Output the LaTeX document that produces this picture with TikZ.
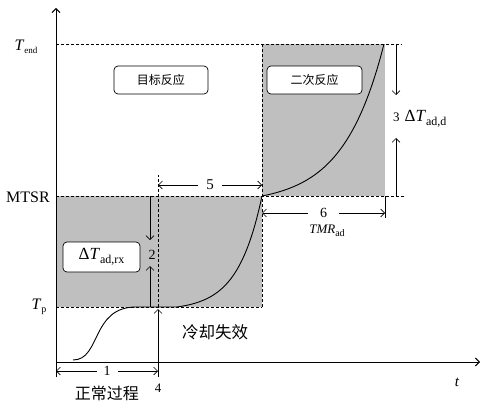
\documentclass[tikz,border=0pt]{standalone}
\usepackage{fontspec}
\setmainfont{Liberation Serif}
\newfontfamily\cjk{Noto Sans CJK SC}
\usetikzlibrary{arrows.meta,calc}
\newcommand\fs[1]{\fontsize{#1}{#1}\selectfont}
\newcommand\lowsub[2]{\raisebox{-0.45ex}{\fs{#1}#2}}

\begin{document}
\begin{tikzpicture}[x=1pt,y=1pt]
	\tikzset{>={Straight Barb[length=4pt,width=8pt]}}
	\tikzset{guide/.style={densely dashed,line width=0.6pt},
		curve/.style={line width=0.9pt},
		dim/.style={line width=0.7pt},
		tagbox/.style={draw,fill=white,rounded corners=4pt,line width=0.7pt,inner sep=0pt},
		gaplabel/.style={fill=white,inner sep=0pt,font=\fs{14}}}
	\useasboundingbox (-56,-46) rectangle (432,362);
	% levels and corners
	\coordinate (O) at (0,0);
	\coordinate (Tp) at (0,55);
	\coordinate (Ms) at (0,166);
	\coordinate (Te) at (0,318);
	\coordinate (F) at (102,55);
	\coordinate (R) at (206,166);
	% shaded regions
	\fill[gray!50] (Tp) rectangle (R);
	\fill[gray!50] (R) rectangle (329,318);
	% guide lines
	\draw[guide] (Te) -- (346,318);
	\draw[guide] (Ms) -- (349,166);
	\draw[guide] (Tp) -- (206,55);
	\draw[guide] (206,55) -- (206,318);
	\draw[guide] (F) -- (102,187);
	% temperature course
	\draw[curve] (17,2) .. controls (45,2) and (35,55) .. (80,55) -- (121,55);
	\draw[curve,domain=0:1,samples=50,variable=\s]
		plot ({121+85*\s},{55+111*(exp(3.5*\s)-1)/(exp(3.5)-1)});
	\draw[curve,domain=0:1,samples=50,variable=\s]
		plot ({206+122*\s},{166+152*(exp(3*\s)-1)/(exp(3)-1)});
	% axes
	\draw[->,line width=0.9pt] (0,-15) -- (0,354);
	\draw[->,line width=0.9pt] (O) -- (424,0) coordinate (X);
	\node[font=\fs{15}\itshape] (tlab) at (401,-20) {t};
	% axis labels
	\node (lTe) at (-30,315) {\fs{16}\textit{T}\lowsub{9}{end}};
	\node[font=\fs{16}] (lMs) at (-28,165) {MTSR};
	\node (lTp) at (-17,55) {\fs{16}\textit{T}\lowsub{10}{p}};
	% 1: normal process
	\coordinate (a1) at (0,-9);
	\coordinate (b1) at (102,-9);
	\draw[<->,dim] (a1) -- node[gaplabel,inner xsep=7pt] {1} (b1);
	% 4: cooling failure
	\coordinate (f0) at (102,-15);
	\draw[->,dim] (f0) -- (102,53);
	\node[font=\fs{13}] (n4) at (102,-26) {4};
	% 2: adiabatic rise of the target reaction
	\coordinate (t2) at (94,166);
	\coordinate (u2) at (94,122);
	\coordinate (b2) at (94,55);
	\coordinate (v2) at (94,96);
	\draw[->,dim] (t2) -- (u2);
	\draw[->,dim] (b2) -- (v2);
	\node[font=\fs{14}] (n2) at (96,107) {2};
	% 5
	\coordinate (a5) at (102,177);
	\coordinate (b5) at (206,177);
	\draw[<->,dim] (a5) -- node[gaplabel,inner xsep=8pt,font=\fs{15}] {5} (b5);
	% 6: TMRad
	\coordinate (a6) at (206,149);
	\coordinate (b6) at (329,149);
	\draw[dim] (329,166) -- (329,144);
	\draw[<->,dim] (a6) -- node[gaplabel,inner xsep=12pt] (n6) {6} (b6);
	\node (tmr) at (271,131) {\fs{13}\textit{TMR}\lowsub{10}{ad}};
	% 3: adiabatic rise of the secondary reaction
	\coordinate (t3) at (340,318);
	\coordinate (u3) at (340,267);
	\coordinate (b3) at (340,166);
	\coordinate (v3) at (340,224);
	\draw[->,dim] (t3) -- (u3);
	\draw[->,dim] (b3) -- (v3);
	\node[anchor=west,inner sep=0pt] (n3) at (337,243)
		{\fs{13}3\hspace{5pt}\fs{17}Δ\textit{T}\lowsub{12}{ad,d}};
	% tags
	\node[tagbox,minimum width=94pt,minimum height=28pt] (target) at (105,282) {\cjk\fs{12}目标反应};
	\node[tagbox,minimum width=95pt,minimum height=28pt] (second) at (258.5,282) {\cjk\fs{12}二次反应};
	\node[tagbox,minimum width=77pt,minimum height=30pt] (rx) at (45.5,105)
		{\fs{17}Δ\textit{T}\lowsub{12}{ad,rx}};
	\node[font=\cjk\fs{16.5}] (fail) at (159,30) {冷却失效};
	\node[font=\cjk\fs{16}] (normal) at (51,-31) {正常过程};
\end{tikzpicture}
\end{document}
